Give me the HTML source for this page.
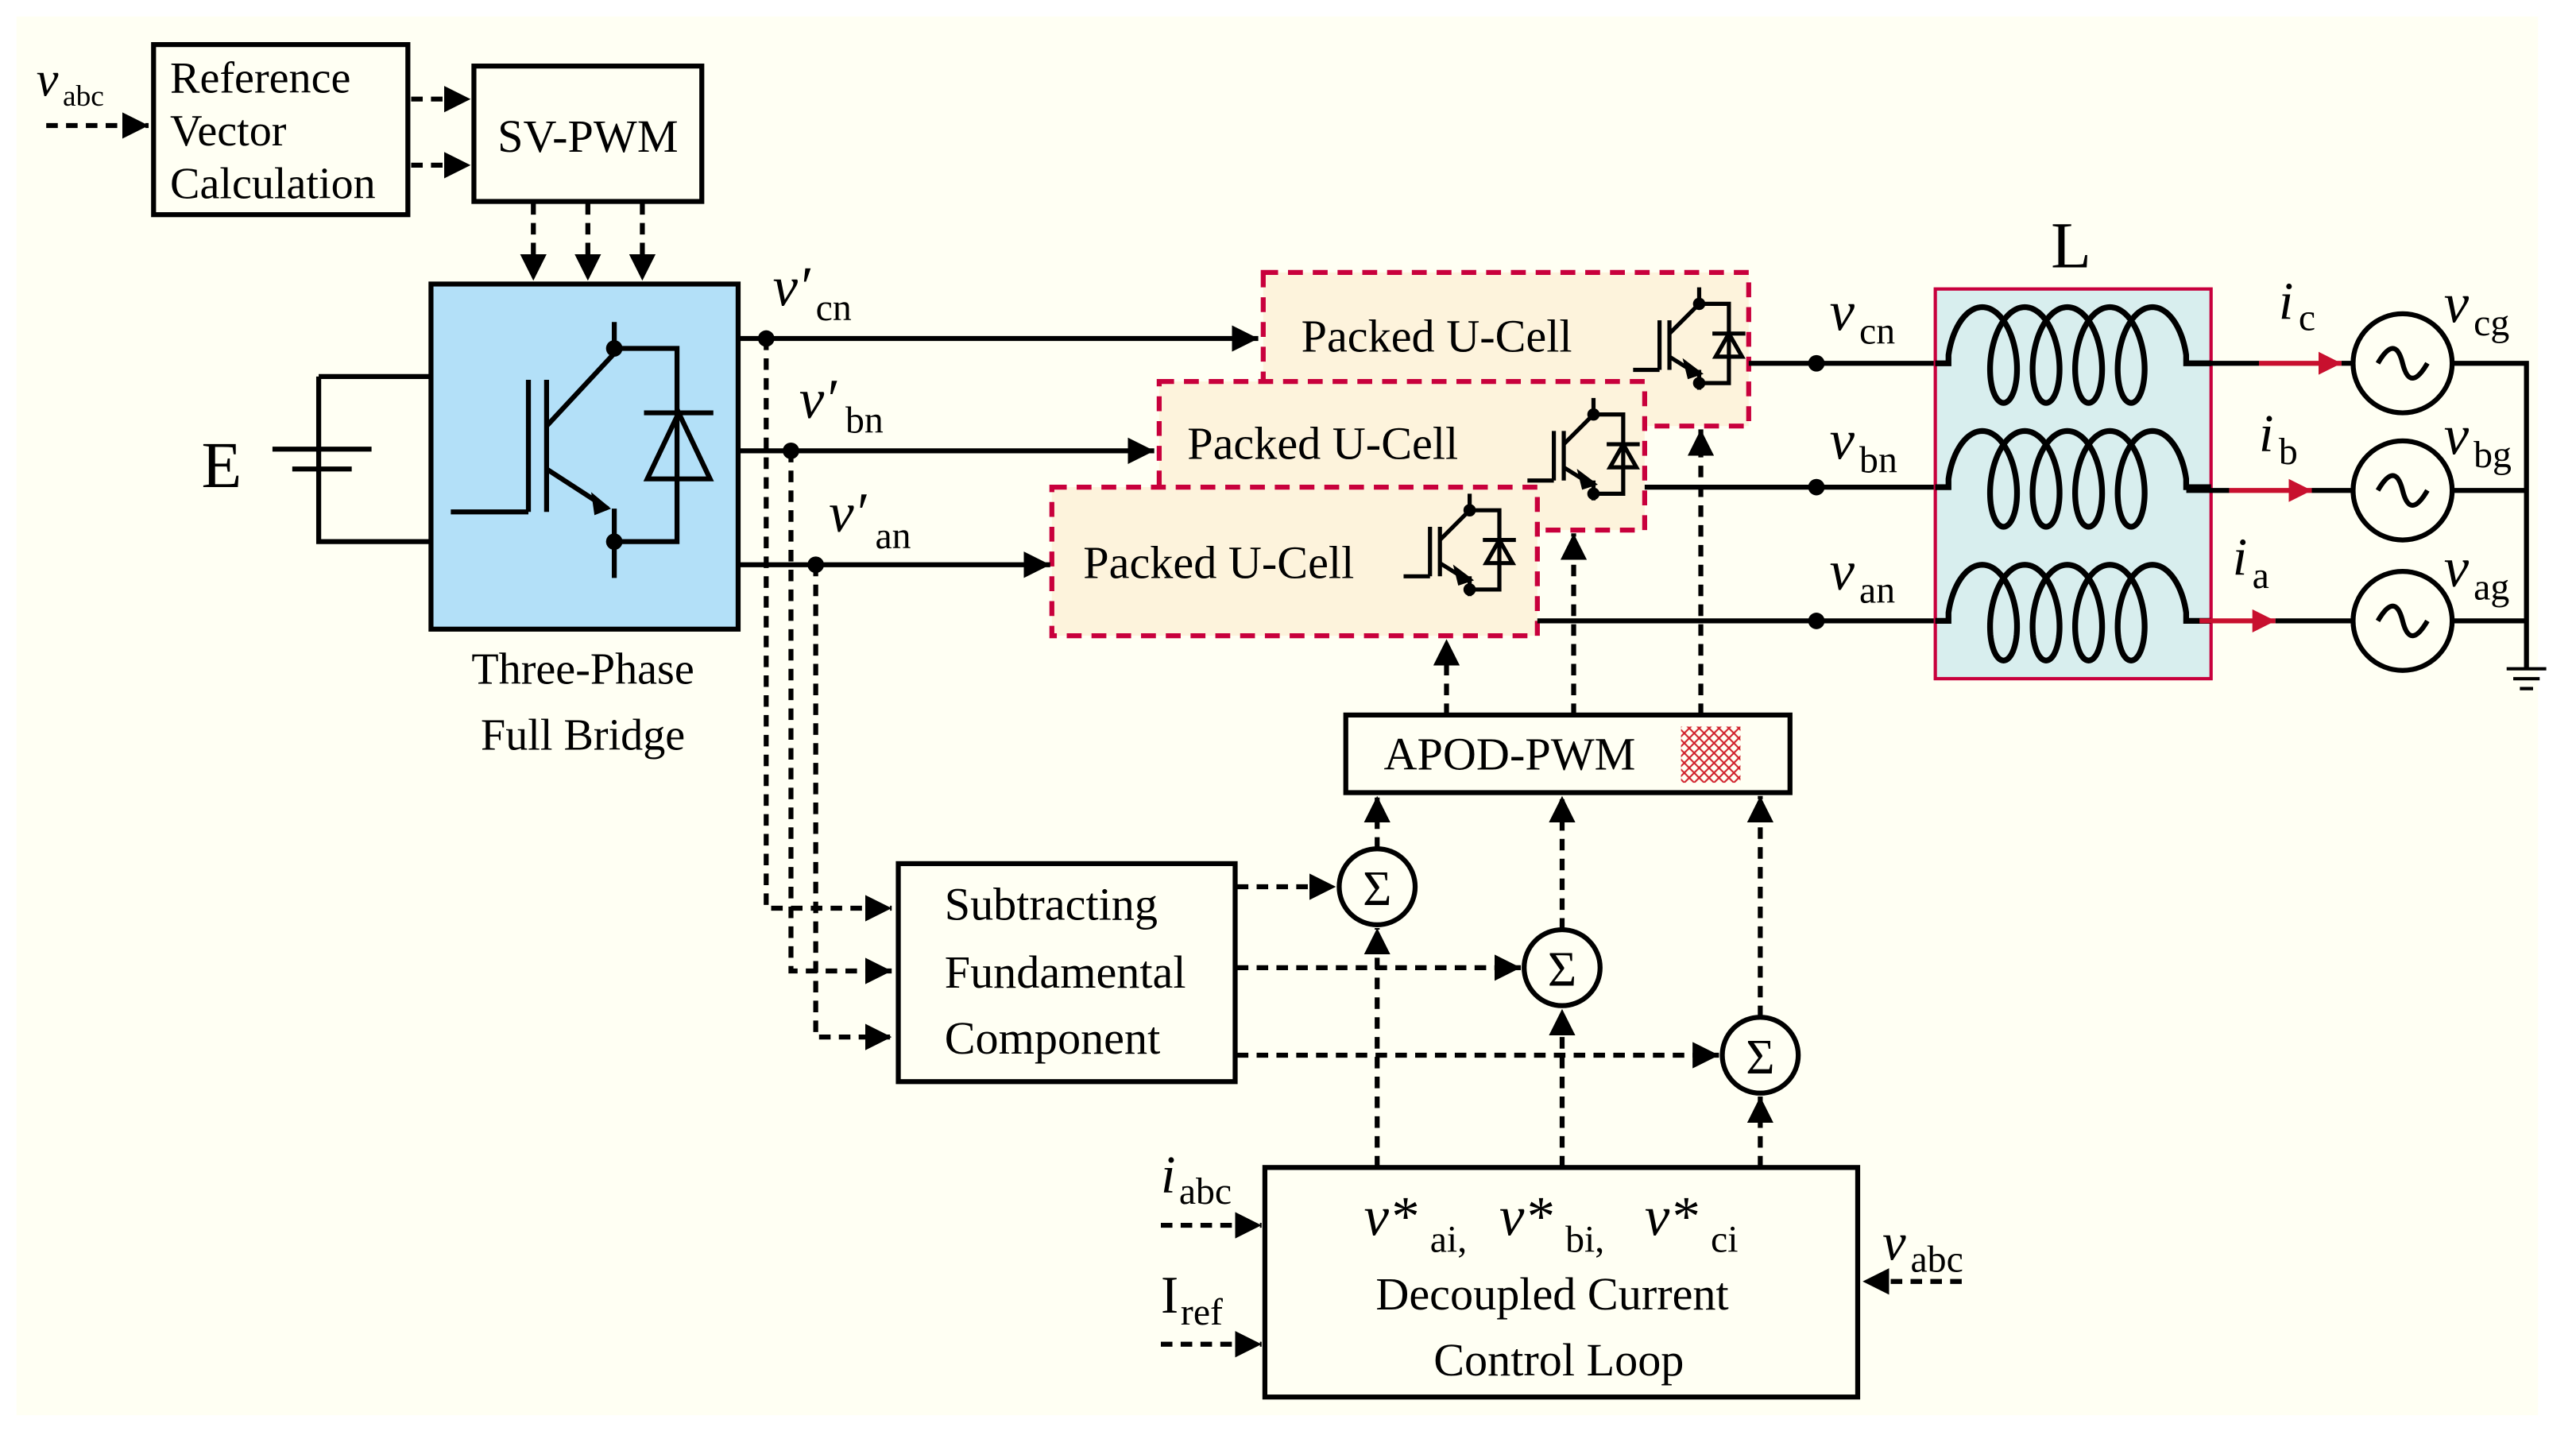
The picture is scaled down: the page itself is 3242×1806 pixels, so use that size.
<!DOCTYPE html>
<html><head><meta charset="utf-8">
<style>
html,body{margin:0;padding:0;background:#fff;}
svg{display:block;}
text{font-family:"Liberation Serif",serif;fill:#000;}
.i{font-style:italic;}
</style></head>
<body>
<svg width="3242" height="1806" viewBox="0 0 1560 869" preserveAspectRatio="none" xmlns="http://www.w3.org/2000/svg" font-family="Liberation Serif, serif">
<defs>
<marker id="ar" viewBox="0 0 10 10" refX="10" refY="5" markerWidth="14" markerHeight="14" orient="auto" markerUnits="userSpaceOnUse">
<path d="M0,0 L10,5 L0,10 z" fill="#c8102e"/>
</marker>
<marker id="ab" viewBox="0 0 10 10" refX="10" refY="5" markerWidth="16" markerHeight="16" orient="auto" markerUnits="userSpaceOnUse">
<path d="M0,0 L10,5 L0,10 z" fill="#000"/>
</marker>
<pattern id="hat" width="6" height="6" patternUnits="userSpaceOnUse">
<path d="M0,0 L6,6 M6,0 L0,6" stroke="#d0202a" stroke-width="1"/>
</pattern>
<g id="igbt" fill="none" stroke="#000" stroke-width="2.5">
<path d="M0,40 H16 M16,10 V40 M22,10 V40 M22,18 L40,0 V-10 M22,32 L38,42"/>
<path d="M40,40 V52 M40,0 H58 V48 H40"/>
<path d="M48,18 H68 M58,18 L50,32 H66 z"/>
<circle cx="40" cy="0" r="2.5" fill="#000"/><circle cx="40" cy="48" r="2.5" fill="#000"/>
<path d="M32,36 L40,42 L34,44 z" fill="#000"/>
</g>
</defs>
<rect x="0" y="0" width="1560" height="869" fill="#fff"/>
<rect x="10" y="10" width="1527" height="847" fill="#fffff3"/>

<g stroke="#000" stroke-width="3" fill="none">
<rect x="93" y="27" width="154" height="103"/>
<rect x="287" y="40" width="138" height="82"/>
</g>
<text x="22" y="58" font-size="30" class="i">v</text><text x="38" y="64" font-size="18">abc</text>
<text x="103" y="56" font-size="27">Reference</text>
<text x="103" y="88" font-size="27">Vector</text>
<text x="103" y="120" font-size="27">Calculation</text>
<text x="356" y="92" font-size="28" text-anchor="middle">SV-PWM</text>

<g stroke="#000" stroke-width="3" fill="none" stroke-dasharray="7,5" marker-end="url(#ab)">
<line x1="28" y1="76" x2="90" y2="76"/>
<line x1="249" y1="60" x2="285" y2="60"/>
<line x1="249" y1="100" x2="285" y2="100"/>
<line x1="323" y1="123" x2="323" y2="170"/>
<line x1="356" y1="123" x2="356" y2="170"/>
<line x1="389" y1="123" x2="389" y2="170"/>
<polyline points="464,205 464,550 540,550"/>
<polyline points="479,273 479,588 540,588"/>
<polyline points="494,342 494,628 540,628"/>
<line x1="749" y1="537" x2="809" y2="537"/>
<line x1="749" y1="586" x2="921" y2="586"/>
<line x1="749" y1="639" x2="1041" y2="639"/>
<line x1="834" y1="707" x2="834" y2="562"/>
<line x1="946" y1="707" x2="946" y2="611"/>
<line x1="1066" y1="707" x2="1066" y2="664"/>
<line x1="834" y1="514" x2="834" y2="482"/>
<line x1="946" y1="563" x2="946" y2="482"/>
<line x1="1066" y1="616" x2="1066" y2="482"/>
<line x1="876" y1="433" x2="876" y2="387"/>
<line x1="953" y1="433" x2="953" y2="323"/>
<line x1="1030" y1="433" x2="1030" y2="260"/>
<line x1="703" y1="742" x2="764" y2="742"/>
<line x1="703" y1="814" x2="764" y2="814"/>
<line x1="1188" y1="776" x2="1128" y2="776"/>
</g>

<rect x="261" y="172" width="186" height="209" fill="#b3e0f8" stroke="#000" stroke-width="3"/>
<g fill="none" stroke="#000" stroke-width="3">
<path d="M273,310 H320 M320,230 V310 M331,230 V310 M331,258 L372,214 V195 M331,284 L368,308 M372,308 V350"/>
<path d="M372,211 H410 V328 H372"/>
<path d="M390,250 H432 M411,250 L392,290 H430 z"/>
<path d="M193,228 H261 M193,228 V328 H261 M165,272 H225 M177,284 H213"/>
</g>
<path d="M358,298 L370,308 L360,312 z" fill="#000"/>
<circle cx="372" cy="211" r="5"/><circle cx="372" cy="328" r="5"/>
<text x="122" y="295" font-size="40">E</text>
<text x="353" y="414" font-size="27" text-anchor="middle">Three-Phase</text>
<text x="353" y="454" font-size="27" text-anchor="middle">Full Bridge</text>

<g fill="#fdf3dc" stroke="#c8003c" stroke-width="3" stroke-dasharray="9,6">
<rect x="765" y="165" width="294" height="93"/>
<rect x="702" y="231" width="294" height="90"/>
<rect x="637" y="295" width="294" height="90"/>
</g>
<text x="788" y="213" font-size="28">Packed U-Cell</text>
<text x="719" y="278" font-size="28">Packed U-Cell</text>
<text x="656" y="350" font-size="28">Packed U-Cell</text>
<use href="#igbt" x="989" y="184"/>
<use href="#igbt" x="925" y="251"/>
<use href="#igbt" x="850" y="309"/>

<g stroke="#000" stroke-width="3" fill="none">
<line x1="447" y1="205" x2="762" y2="205" marker-end="url(#ab)"/>
<line x1="447" y1="273" x2="699" y2="273" marker-end="url(#ab)"/>
<line x1="447" y1="342" x2="636" y2="342" marker-end="url(#ab)"/>
<line x1="1059" y1="220" x2="1172" y2="220"/>
<line x1="996" y1="295" x2="1172" y2="295"/>
<line x1="931" y1="376" x2="1172" y2="376"/>
</g>
<circle cx="464" cy="205" r="5"/><circle cx="479" cy="273" r="5"/><circle cx="494" cy="342" r="5"/>
<circle cx="1100" cy="220" r="5"/><circle cx="1100" cy="295" r="5"/><circle cx="1100" cy="376" r="5"/>
<text x="468" y="185" font-size="34" class="i">v′</text><text x="494" y="194" font-size="23">cn</text>
<text x="484" y="253" font-size="34" class="i">v′</text><text x="512" y="262" font-size="23">bn</text>
<text x="502" y="322" font-size="34" class="i">v′</text><text x="530" y="332" font-size="23">an</text>
<text x="1108" y="200" font-size="34" class="i">v</text><text x="1126" y="208" font-size="23">cn</text>
<text x="1108" y="278" font-size="34" class="i">v</text><text x="1126" y="286" font-size="23">bn</text>
<text x="1108" y="357" font-size="34" class="i">v</text><text x="1126" y="365" font-size="23">an</text>

<rect x="1172" y="175" width="167" height="236" fill="#d8eeee" stroke="#c8003c" stroke-width="2"/>
<text x="1242" y="162" font-size="40">L</text>
<g fill="none" stroke="#000" stroke-width="3.5">
<path id="c1" d=""/><path id="c2" d=""/><path id="c3" d=""/>
</g>
<g stroke="#000" stroke-width="3">
<line x1="1324" y1="220" x2="1368" y2="220"/>
<line x1="1324" y1="297" x2="1350" y2="297"/>
<line x1="1324" y1="376" x2="1332" y2="376"/>
</g>
<g stroke="#c8102e" stroke-width="3" marker-end="url(#ar)">
<line x1="1368" y1="220" x2="1418" y2="220"/>
<line x1="1350" y1="297" x2="1400" y2="297"/>
<line x1="1332" y1="376" x2="1378" y2="376"/>
</g>
<text x="1380" y="193" font-size="32" class="i">i</text><text x="1392" y="200" font-size="23">c</text>
<text x="1368" y="273" font-size="32" class="i">i</text><text x="1380" y="281" font-size="23">b</text>
<text x="1352" y="348" font-size="32" class="i">i</text><text x="1364" y="356" font-size="23">a</text>

<g fill="none" stroke="#000" stroke-width="3">
<line x1="1418" y1="220" x2="1425" y2="220"/><line x1="1400" y1="297" x2="1425" y2="297"/><line x1="1378" y1="376" x2="1425" y2="376"/>
<circle cx="1455" cy="220" r="30"/><circle cx="1455" cy="297" r="30"/><circle cx="1455" cy="376" r="30"/>
<path d="M1440,220 C1447,208 1452,208 1455,220 C1458,232 1463,232 1470,220"/>
<path d="M1440,297 C1447,285 1452,285 1455,297 C1458,309 1463,309 1470,297"/>
<path d="M1440,376 C1447,364 1452,364 1455,376 C1458,388 1463,388 1470,376"/>
<path d="M1485,220 H1530 V405 M1485,297 H1530 M1485,376 H1530"/>
<path d="M1518,405 H1542 M1522,411 H1538 M1526,417 H1534" stroke-width="2"/>
</g>
<text x="1480" y="195" font-size="34" class="i">v</text><text x="1498" y="203" font-size="23">cg</text>
<text x="1480" y="275" font-size="34" class="i">v</text><text x="1498" y="283" font-size="23">bg</text>
<text x="1480" y="355" font-size="34" class="i">v</text><text x="1498" y="363" font-size="23">ag</text>

<rect x="815" y="433" width="269" height="47" fill="none" stroke="#000" stroke-width="3"/>
<text x="838" y="466" font-size="28">APOD-PWM</text>
<rect x="1018" y="440" width="36" height="34" fill="url(#hat)"/>

<g fill="#fffff3" stroke="#000" stroke-width="3">
<circle cx="834" cy="537" r="23"/><circle cx="946" cy="586" r="23"/><circle cx="1066" cy="639" r="23"/>
</g>
<text x="834" y="548" font-size="30" text-anchor="middle">Σ</text>
<text x="946" y="597" font-size="30" text-anchor="middle">Σ</text>
<text x="1066" y="650" font-size="30" text-anchor="middle">Σ</text>

<rect x="544" y="523" width="204" height="132" fill="none" stroke="#000" stroke-width="3"/>
<text x="572" y="557" font-size="28">Subtracting</text>
<text x="572" y="598" font-size="28">Fundamental</text>
<text x="572" y="638" font-size="28">Component</text>

<rect x="766" y="707" width="359" height="139" fill="none" stroke="#000" stroke-width="3"/>
<text x="826" y="748" font-size="34" class="i">v*</text><text x="866" y="758" font-size="23">ai,</text>
<text x="908" y="748" font-size="34" class="i">v*</text><text x="948" y="758" font-size="23">bi,</text>
<text x="996" y="748" font-size="34" class="i">v*</text><text x="1036" y="758" font-size="23">ci</text>
<text x="940" y="793" font-size="28" text-anchor="middle">Decoupled Current</text>
<text x="944" y="833" font-size="28" text-anchor="middle">Control Loop</text>
<text x="703" y="722" font-size="32" class="i">i</text><text x="714" y="729" font-size="23">abc</text>
<text x="703" y="795" font-size="32">I</text><text x="715" y="802" font-size="23">ref</text>
<text x="1140" y="763" font-size="32" class="i">v</text><text x="1157" y="770" font-size="23">abc</text>
</svg>
<script>
(function(){
  var ys=[220,295,376], ids=['c1','c2','c3'];
  for(var k=0;k<3;k++){
    var y0=ys[k], cy=y0-5, A=1194, p=4.1, Rx=14, Ry=29;
    var d='M1172,'+y0+' H'+(A-Rx)+' L'+(A-Rx)+','+cy;
    for(var i=0;i<=360;i++){
      var t=i/360*9*Math.PI;
      var x=A+p*t-Rx*Math.cos(t);
      var y=cy-Ry*Math.sin(t);
      d+=' L'+x.toFixed(2)+','+y.toFixed(2);
    }
    var ex=A+p*9*Math.PI+Rx;
    d+=' L'+ex.toFixed(2)+','+y0+' H1339';
    document.getElementById(ids[k]).setAttribute('d',d);
  }
})();
</script>
</body></html>
